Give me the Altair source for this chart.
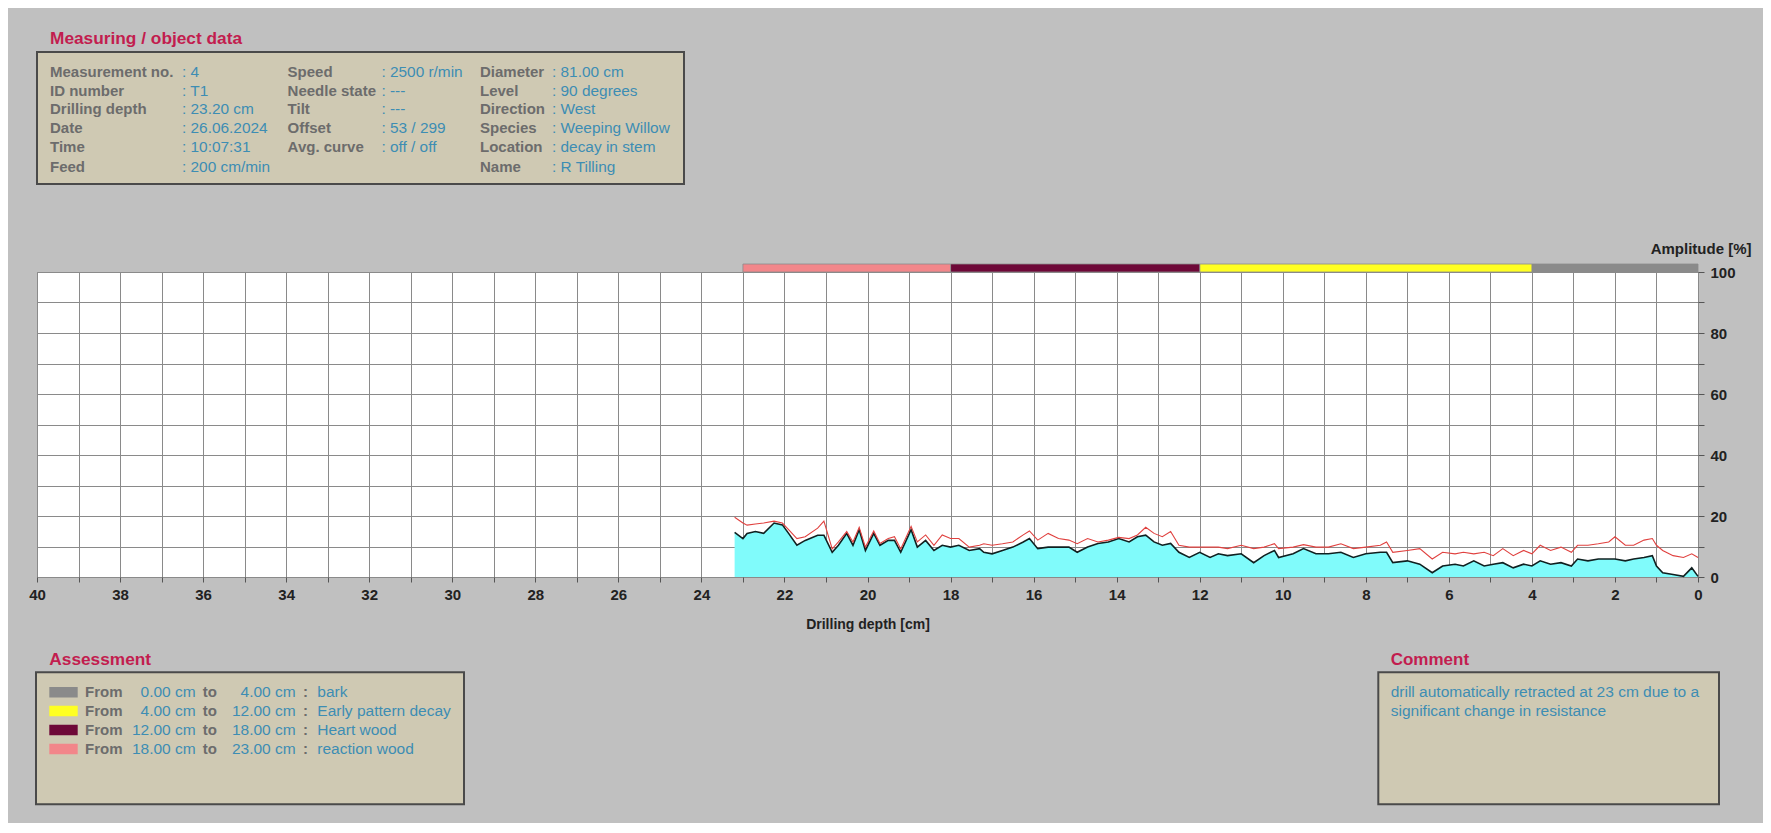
import altair as alt
import pandas as pd

# ---------------- data ----------------
depth = [23.2, 23.0, 22.9, 22.7, 22.5, 22.25, 22.05, 21.9, 21.7, 21.5, 21.2, 21.05,
         20.85, 20.7, 20.5, 20.35, 20.2, 20.05, 19.85, 19.7, 19.5, 19.35, 19.2, 18.95,
         18.8, 18.6, 18.4, 18.2, 18.0, 17.8, 17.55, 17.3, 17.2, 17.0, 16.75, 16.5,
         16.25, 16.1, 15.9, 15.65, 15.4, 15.15, 14.95, 14.7, 14.45, 14.2, 13.95, 13.7,
         13.5, 13.3, 13.1, 12.9, 12.7, 12.5, 12.25, 12.0, 11.75, 11.55, 11.33, 11.0,
         10.7, 10.45, 10.2, 10.1, 9.75, 9.5, 9.2, 8.9, 8.6, 8.3, 8.0, 7.65,
         7.5, 7.35, 7.0, 6.7, 6.4, 6.15, 5.85, 5.65, 5.4, 5.15, 4.93, 4.7,
         4.45, 4.2, 4.0, 3.8, 3.55, 3.3, 3.05, 2.9, 2.65, 2.4, 2.15, 2.0,
         1.75, 1.55, 1.3, 1.1, 1.0, 0.85, 0.6, 0.35, 0.15, 0.0]
black = [14.6, 12.6, 14.3, 14.9, 14.3, 17.7, 17.1, 14.3, 10.4, 12.0, 13.7, 13.7,
         8.1, 10.4, 14.3, 10.4, 15.5, 8.7, 14.3, 10.4, 12.0, 12.0, 8.1, 15.5,
         9.8, 12.0, 8.7, 10.4, 9.8, 10.4, 8.7, 9.3, 8.1, 7.6, 8.7, 9.8,
         11.5, 12.6, 9.3, 9.8, 9.8, 9.8, 8.1, 9.8, 11.0, 11.5, 12.6, 11.5,
         13.2, 13.7, 11.5, 10.4, 11.0, 8.1, 6.4, 8.1, 6.4, 7.6, 7.0, 7.6,
         4.7, 7.0, 8.7, 6.4, 7.6, 9.3, 7.6, 7.6, 8.1, 6.4, 7.6, 8.1,
         8.1, 4.7, 5.3, 4.2, 1.4, 3.6, 4.2, 3.6, 5.3, 3.6, 4.2, 4.7,
         3.0, 4.2, 3.6, 5.3, 4.2, 4.7, 3.6, 5.9, 5.3, 5.9, 5.9, 5.9,
         5.3, 5.9, 6.4, 7.0, 3.6, 1.4, 0.8, 0.2, 3.0, 0.2]
red = [19.6, 17.7, 17.0, 17.4, 17.7, 18.3, 17.7, 15.5, 12.6, 13.2, 16.0, 18.3,
       9.2, 11.5, 14.9, 11.5, 16.3, 9.8, 15.1, 11.0, 12.6, 13.2, 9.2, 16.6,
       11.5, 13.8, 10.4, 13.8, 12.6, 12.6, 9.8, 10.4, 10.9, 10.4, 10.9, 11.5,
       13.8, 15.1, 12.1, 14.3, 12.6, 12.1, 10.9, 12.6, 11.5, 12.1, 13.0, 12.6,
       13.8, 16.3, 14.3, 13.2, 14.9, 10.4, 9.8, 9.8, 9.8, 9.8, 9.3, 10.4,
       9.3, 9.8, 10.9, 9.3, 9.8, 10.6, 9.8, 9.8, 10.9, 9.3, 9.8, 10.4,
       11.5, 8.1, 8.7, 9.3, 5.9, 8.1, 7.6, 8.1, 7.6, 8.1, 7.0, 9.3,
       7.0, 8.7, 7.6, 10.4, 8.7, 9.8, 8.1, 10.4, 10.4, 10.9, 11.5, 13.2,
       10.4, 10.4, 12.1, 12.6, 10.4, 8.7, 7.0, 6.4, 7.6, 6.4]

seg_from = [0.0, 4.0, 12.0, 18.0]
seg_to = [4.0, 12.0, 18.0, 23.0]
seg_name = ["bark", "Early pattern decay", "Heart wood", "reaction wood"]
seg_color = ["#8a8a8a", "#ffff22", "#6e0838", "#f2868a"]

x_ticks = list(range(0, 41))
y_ticks = list(range(0, 101, 10))

info_title = "Measuring / object data"
col1_labels = ["Measurement no.", "ID number", "Drilling depth", "Date", "Time", "Feed"]
col1_values = ["4", "T1", "23.20 cm", "26.06.2024", "10:07:31", "200 cm/min"]
col2_labels = ["Speed", "Needle state", "Tilt", "Offset", "Avg. curve"]
col2_values = ["2500 r/min", "---", "---", "53 / 299", "off / off"]
col3_labels = ["Diameter", "Level", "Direction", "Species", "Location", "Name"]
col3_values = ["81.00 cm", "90 degrees", "West", "Weeping Willow", "decay in stem", "R Tilling"]

assess_title = "Assessment"
comment_title = "Comment"
comment_lines = ["drill automatically retracted at 23 cm due to a",
                 "significant change in resistance"]

# ---------------- styling / layout ----------------
W, H = 1661, 305
FONT = "Liberation Sans"
LABEL_GRAY = "#6c6c6c"
VALUE_BLUE = "#3d8db3"
TITLE_RED = "#c21d4f"
BOX_FILL = "#cfc9b3"
BOX_STROKE = "#4a4a4a"
GRID = "#8a8a8a"
CYAN = "#80fbfb"

info_rows = [-200.3, -181.3, -162.7, -143.7, -124.7, -105.3]
assess_rows = [420.3, 439.0, 458.0, 477.0]

x_scale = alt.Scale(domain=[0, 40], reverse=True, nice=False, zero=False)
y_scale = alt.Scale(domain=[0, 100], nice=False)

df = pd.DataFrame({"depth": depth, "black": black, "red": red})

x_axis = alt.Axis(values=x_ticks, labelExpr="datum.value % 2 == 0 ? datum.label : ''",
                  title="Drilling depth [cm]", grid=True, gridColor=GRID, gridOpacity=1,
                  domain=False, tickColor="#555", tickSize=5, labelPadding=5,
                  labelFont=FONT, labelFontSize=15, labelFontWeight="bold", labelColor="#222",
                  titleFont=FONT, titleFontSize=14, titleFontWeight="bold", titleColor="#222",
                  titleY=47, titleBaseline="middle", labelFlush=False)
y_axis = alt.Axis(values=y_ticks, orient="right",
                  labelExpr="datum.value % 20 == 0 ? datum.label : ''",
                  title="Amplitude [%]", grid=True, gridColor=GRID, gridOpacity=1,
                  domain=False, tickColor="#555", tickSize=6, labelPadding=6,
                  labelFont=FONT, labelFontSize=15, labelFontWeight="bold", labelColor="#222",
                  labelAlign="left", labelBaseline="middle", labelFlush=False,
                  titleFont=FONT, titleFontSize=15, titleFontWeight="bold", titleColor="#222",
                  titleAngle=0, titleAlign="right", titleBaseline="middle",
                  titleX=53, titleY=-23.5)

area = alt.Chart(df).mark_area(color=CYAN, opacity=1).encode(
    x=alt.X("depth:Q", scale=x_scale, axis=x_axis),
    y=alt.Y("black:Q", scale=y_scale, axis=y_axis),
)
line_black = alt.Chart(df).mark_line(color="#102020", strokeWidth=1.6).encode(
    x=alt.X("depth:Q", scale=x_scale, axis=None),
    y=alt.Y("black:Q", scale=y_scale, axis=None),
)
line_red = alt.Chart(df).mark_line(color="#e0413f", strokeWidth=1.1).encode(
    x=alt.X("depth:Q", scale=x_scale, axis=None),
    y=alt.Y("red:Q", scale=y_scale, axis=None),
)

seg_df = pd.DataFrame({"start": seg_from, "end": seg_to, "c": seg_color})
segments = alt.Chart(seg_df).mark_rect(stroke="#8c8c8c", strokeWidth=0.8).encode(
    x=alt.X("start:Q", scale=x_scale, axis=None),
    x2="end:Q",
    y=alt.value(-8), y2=alt.value(0),
    color=alt.Color("c:N", scale=None, legend=None),
)

one = pd.DataFrame({"a": [0]})


def box(x0, x1, y0, y1):
    return alt.Chart(one).mark_rect(fill=BOX_FILL, stroke=BOX_STROKE, strokeWidth=2).encode(
        x=alt.value(x0), x2=alt.value(x1), y=alt.value(y0), y2=alt.value(y1))


def texts(xs, ys, ts, align="left", weight="normal", size=14, color=LABEL_GRAY):
    d = pd.DataFrame({"px": xs, "py": ys, "t": ts})
    return alt.Chart(d).mark_text(align=align, baseline="middle", font=FONT,
                                  fontSize=size, fontWeight=weight, color=color).encode(
        x=alt.X("px:Q", scale=None, axis=None),
        y=alt.Y("py:Q", scale=None, axis=None),
        text="t:N")


LBL = 15
VAL = 15.4
TTL = 17.3

layers = []
# info box
layers.append(box(0, 647, -220, -88))
layers.append(texts([13], [-233], [info_title], weight="bold", size=TTL, color=TITLE_RED))
layers.append(texts([13] * 6, info_rows, col1_labels, weight="bold", size=LBL))
layers.append(texts([145] * 6, info_rows, [": " + v for v in col1_values], size=VAL, color=VALUE_BLUE))
layers.append(texts([250.6] * 5, info_rows[:5], col2_labels, weight="bold", size=LBL))
layers.append(texts([344.4] * 5, info_rows[:5], [": " + v for v in col2_values], size=VAL, color=VALUE_BLUE))
layers.append(texts([443] * 6, info_rows, col3_labels, weight="bold", size=LBL))
layers.append(texts([515] * 6, info_rows, [": " + v for v in col3_values], size=VAL, color=VALUE_BLUE))

# assessment box
layers.append(box(-1, 427, 400.3, 532.3))
layers.append(texts([12.3], [388], [assess_title], weight="bold", size=TTL, color=TITLE_RED))
sw = pd.DataFrame({"py0": [r - 5.3 for r in assess_rows], "py1": [r + 5.3 for r in assess_rows],
                   "c": seg_color})
layers.append(alt.Chart(sw).mark_rect().encode(
    x=alt.value(12.3), x2=alt.value(40.7),
    y=alt.Y("py0:Q", scale=None, axis=None), y2="py1:Q",
    color=alt.Color("c:N", scale=None, legend=None)))
layers.append(texts([48] * 4, assess_rows, ["From"] * 4, weight="bold", size=15))
layers.append(texts([158.7] * 4, assess_rows, [f"{v:.2f} cm" for v in seg_from], align="right", size=15.5, color=VALUE_BLUE))
layers.append(texts([165.7] * 4, assess_rows, ["to"] * 4, weight="bold", size=15))
layers.append(texts([258.7] * 4, assess_rows, [f"{v:.2f} cm" for v in seg_to], align="right", size=15.5, color=VALUE_BLUE))
layers.append(texts([266] * 4, assess_rows, [":"] * 4, weight="bold", size=15))
layers.append(texts([280.3] * 4, assess_rows, seg_name, size=15.5, color=VALUE_BLUE))

# comment box
layers.append(box(1341.3, 1682, 400.3, 532.3))
layers.append(texts([1353.7], [388], [comment_title], weight="bold", size=17, color=TITLE_RED))
layers.append(texts([1353.7] * 2, [420.3, 439.0], comment_lines, size=15.5, color=VALUE_BLUE))

chart = alt.layer(area, line_black, line_red, segments, *layers).resolve_scale(
    x="independent", y="independent"
).properties(
    width=W, height=H,
    autosize=alt.AutoSizeParams(type="none"),
    padding={"left": 29, "top": 264, "right": 65, "bottom": 246},
    background="#c0c0c0",
).configure_view(fill="white", stroke=GRID, strokeWidth=1)

chart.save("out.html", embed_options={"renderer": "svg", "actions": False})
